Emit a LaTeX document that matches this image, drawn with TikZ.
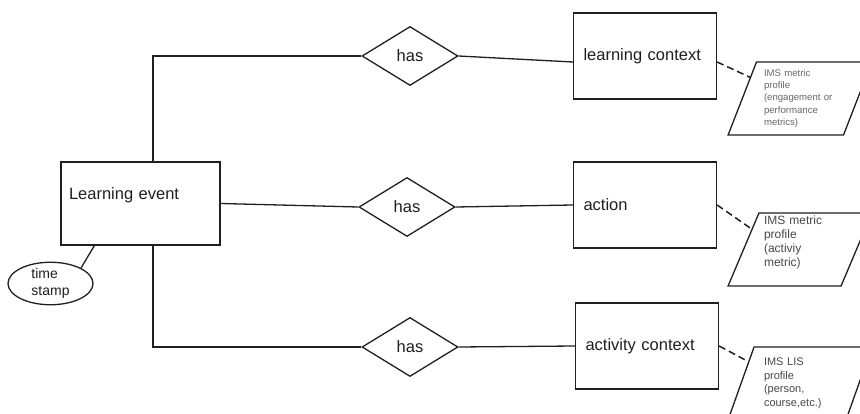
\documentclass[tikz,border=0pt]{standalone}
\usepackage{fontspec}
\setmainfont{Liberation Sans}
\usetikzlibrary{calc, positioning, shapes.geometric}

\begin{document}
\begin{tikzpicture}[x=1pt, y=-1pt, line width=1.3pt, color=black!88,
    entity/.style={draw, rectangle, minimum height=86pt, text width=123pt, inner xsep=10pt, align=left, font=\fontsize{16.5}{19}\selectfont},
    relation/.style={draw, diamond, minimum width=96pt, minimum height=59pt, inner sep=0pt, font=\fontsize{16.5}{19}\selectfont},
    profile/.style={draw, trapezium, trapezium left angle=68, trapezium right angle=112, trapezium stretches=true, minimum width=144pt, minimum height=73pt, inner sep=0pt, text width=72pt, align=left},
    link/.style={dash pattern=on 7pt off 4pt, line width=1.5pt}]
  \useasboundingbox (0,0) rectangle (860,414);
  \clip (0,0) rectangle (860,414);

  % main event and its time stamp
  \node[draw, rectangle, minimum width=159pt, minimum height=83pt, text width=143pt, inner xsep=8pt, align=left,
    text height=11.5pt, text depth=18.5pt, font=\fontsize{16.5}{19}\selectfont] (event) at (140.5,203.5) {Learning event};
  \node[draw, ellipse, minimum width=85pt, minimum height=41pt, inner sep=0pt, align=left,
    font=\fontsize{14}{17}\selectfont] (stamp) at (50.5,283.5) {time\\stamp};

  % relations
  \node[relation] (has1) at (410,56) {has};
  \node[relation] (has2) at (407,207) {has};
  \node[relation] (has3) at (410,347) {has};

  % contexts
  \node[entity] (ctx) at (645,56) {learning context};
  \node[entity] (act) at (645,205) {action};
  \node[entity] (actctx) at (647,346) {activity context};

  % profiles
  \node[profile, text=black!60, font=\fontsize{9.6}{12.3}\selectfont] (prof1) at (800,98.5)
    {IMS metric\\profile\\(engagement or\\performance\\metrics)};
  \node[profile, text=black!72, font=\fontsize{12}{14}\selectfont, text height=9pt, text depth=58pt] (prof2) at (800,249.5)
    {IMS metric\\profile\\(activiy\\metric)};
  \node[profile, text=black!72, font=\fontsize{11}{13.5}\selectfont] (prof3) at (800,383.5)
    {IMS LIS\\profile\\(person,\\course,etc.)};

  \draw (stamp.north east) -- ([xshift=34pt]event.south west);
  \draw ([xshift=12.5pt]event.north) |- (has1.west);
  \draw ([xshift=12.5pt]event.south) |- (has3.west);
  \draw (event.east) -- (has2.west);
  \draw (has1.east) -- ([yshift=-6pt]ctx.west);
  \draw (has2.east) -- (act.west);
  \draw (has3.east) -- (actctx.west);
  \draw[link] ([yshift=-6pt]ctx.east) -- (prof1.157);
  \draw[link] (act.east) -- (prof2.157);
  \draw[link] (actctx.east) -- (prof3.157);
\end{tikzpicture}
\end{document}
